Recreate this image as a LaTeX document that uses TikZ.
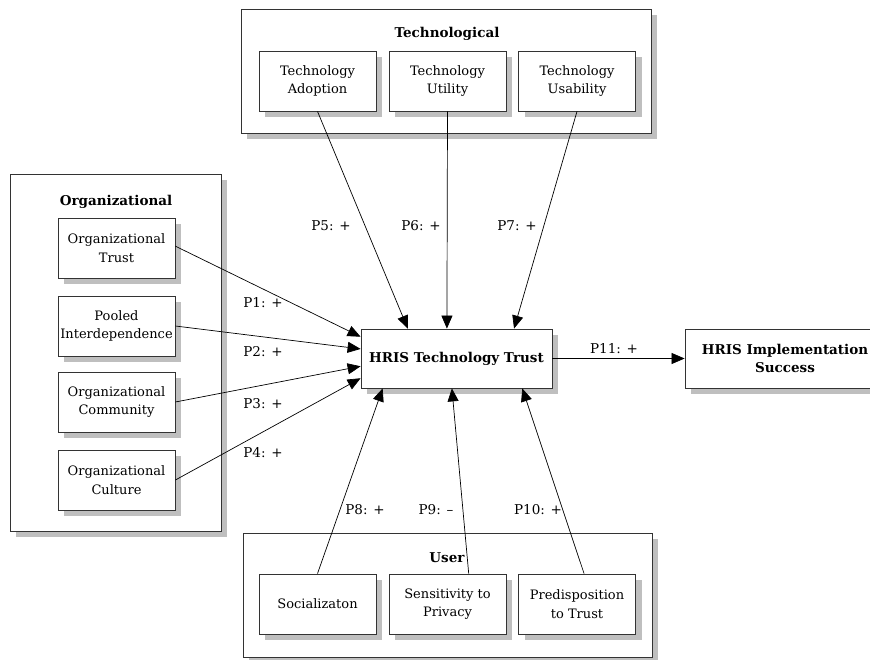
\documentclass[tikz,border=0pt]{standalone}
\usepackage{fontspec}
\setmainfont{DejaVu Serif}
\usetikzlibrary{arrows.meta,shadows,calc}

\tikzset{
  shadowed/.style={drop shadow={shadow xshift=6pt,shadow yshift=-6pt,fill=black!25,opacity=1}},
  group/.style={draw=black!80,line width=0.8pt,fill=white,shadowed},
  factor/.style={draw=black!80,line width=0.8pt,fill=white,shadowed,
    minimum width=117pt,minimum height=60pt,inner sep=0pt,align=center,
    font=\fontsize{13}{18.5}\selectfont},
  hub/.style={factor,minimum width=191pt,minimum height=59pt,font=\fontsize{13.5}{18.5}\selectfont\bfseries},
  grouptitle/.style={font=\fontsize{13.5}{18}\selectfont\bfseries},
  link/.style={line width=0.7pt,-{Triangle[length=13pt,width=11pt]}},
  plabel/.style={font=\fontsize{13.5}{18}\selectfont}
}

\begin{document}
\begin{tikzpicture}[x=1pt,y=-1pt]
\useasboundingbox (0,0) rectangle (870,659);

% group frames
\path[group] (241,9) rectangle (651,133);
\path[group] (10,174) rectangle (221,531);
\path[group] (243,533) rectangle (652,657);

\node[grouptitle] (ttech) at (447,34) {Technological};
\node[grouptitle] (torg) at (116,202) {Organizational};
\node[grouptitle] (tuser) at (447,558) {User};

% technological factors
\node[factor] (ta) at (317.5,81) {Technology\\Adoption};
\node[factor] (tu) at (447.5,81) {Technology\\Utility};
\node[factor] (tb) at (577,81) {Technology\\Usability};

% organizational factors
\node[factor] (ot) at (116.5,248) {Organizational\\Trust};
\node[factor] (op) at (116.5,326) {Pooled\\Interdependence};
\node[factor] (oc) at (116.5,402) {Organizational\\Community};
\node[factor] (ou) at (116.5,480) {Organizational\\Culture};

% user factors
\node[factor] (us) at (317.5,604) {Socializaton};
\node[factor] (up) at (447.5,604) {Sensitivity to\\Privacy};
\node[factor] (ud) at (577,604) {Predisposition\\to Trust};

% central constructs
\node[hub] (hris) at (456.5,358.5) {HRIS Technology Trust};
\node[hub,minimum width=200pt] (succ) at (785,358.5) {HRIS Implementation\\Success};

% technological propositions
\draw[link] (ta.south) -- ($(hris.north west)!0.246!(hris.north east)$);
\draw[link] (tu.south) -- ($(hris.north west)!0.450!(hris.north east)$);
\draw[link] (tb.south) -- ($(hris.north west)!0.800!(hris.north east)$);

% organizational propositions
\draw[link] ($(ot.north east)!0.47!(ot.south east)$) -- ($(hris.north west)!0.136!(hris.south west)$);
\draw[link] (op.east) -- ($(hris.north west)!0.34!(hris.south west)$);
\draw[link] (oc.east) -- ($(hris.north west)!0.63!(hris.south west)$);
\draw[link] (ou.east) -- ($(hris.north west)!0.83!(hris.south west)$);

% user propositions
\draw[link] (us.north) -- ($(hris.south west)!0.115!(hris.south east)$);
\draw[link] ($(up.north west)!0.68!(up.north east)$) -- ($(hris.south west)!0.476!(hris.south east)$);
\draw[link] ($(ud.north west)!0.56!(ud.north east)$) -- ($(hris.south west)!0.843!(hris.south east)$);

% outcome
\draw[link] (hris.east) -- (succ.west);

% proposition labels
\node[plabel] (p5) at (331,226) {P5: +};
\node[plabel] (p6) at (421,226) {P6: +};
\node[plabel] (p7) at (517,226) {P7: +};
\node[plabel] (p1) at (263,303) {P1: +};
\node[plabel] (p2) at (263,352) {P2: +};
\node[plabel] (p3) at (263,404) {P3: +};
\node[plabel] (p4) at (263,453) {P4: +};
\node[plabel] (p8) at (365,510) {P8: +};
\node[plabel] (p9) at (436,510) {P9: –};
\node[plabel] (p10) at (538,510) {P10: +};
\node[plabel] (p11) at (614,349) {P11: +};
\end{tikzpicture}
\end{document}
